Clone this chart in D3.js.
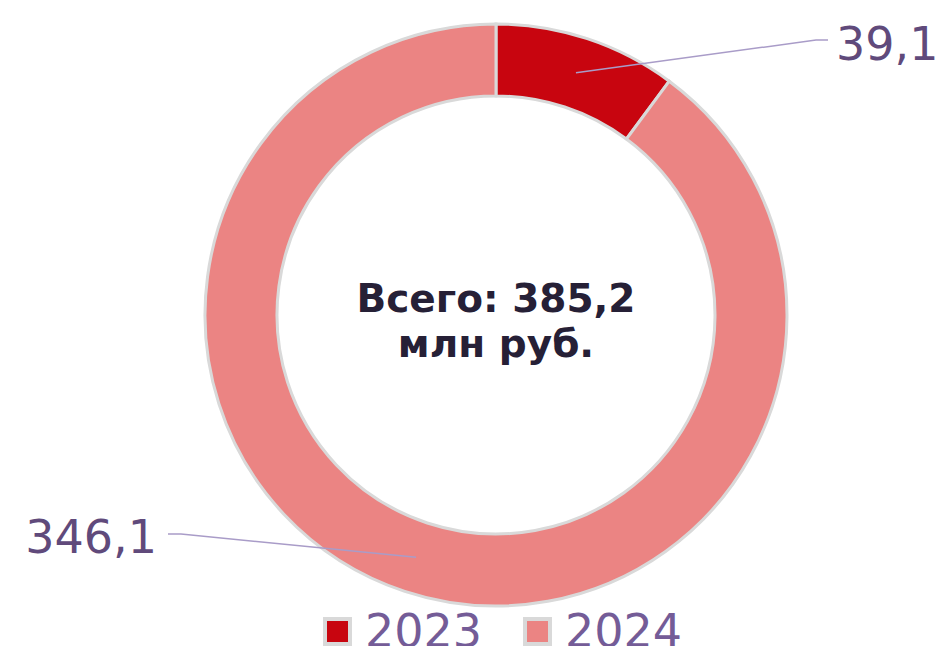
<!DOCTYPE html>
<html>
<head>
<meta charset="utf-8">
<script src="https://cdn.jsdelivr.net/npm/d3@7"></script>
<style>
  body { margin: 0; background: #fff; }
  svg { display: block; font-family: "DejaVu Sans", Verdana, sans-serif; }
</style>
</head>
<body>
<div id="chart"></div>
<script>
// data
const years = ["2023", "2024"];
const amounts = [39.1, 346.1];
const labels = ["39,1", "346,1"];
const totalText = ["Всего: 385,2", "млн руб."];
const colors = ["#C8050F", "#EB8483"];

const width = 948, height = 646;
const cx = 496, cy = 315;
const outerR = 291, innerR = 219;

const svg = d3.select("#chart")
  .append("svg")
    .attr("width", width)
    .attr("height", height);

const g = svg.append("g")
  .attr("transform", `translate(${cx}, ${cy})`);

const data = years.map(function(y, i) { return {year: y, amount: amounts[i], label: labels[i], color: colors[i]}; });

const pie = d3.pie()
  .sort(null)
  .value(function(d) { return d.amount; });

const arcGenerator = d3.arc()
  .innerRadius(innerR)
  .outerRadius(outerR);

const slices = pie(data);

g.selectAll("path.slice")
  .data(slices)
  .join("path")
    .attr("class", "slice")
    .attr("d", arcGenerator)
    .attr("fill", function(d) { return d.data.color; })
    .attr("stroke", "#D9D9D9")
    .style("stroke-width", "3px");

// leader lines: from centroid to label
const labelPos = [
  {kink: [816 - cx, 40 - cy], end: [828 - cx, 40 - cy], tx: 836 - cx, ty: 60 - cy, anchor: "start"},
  {kink: [181 - cx, 534 - cy], end: [168 - cx, 534 - cy], tx: 157 - cx, ty: 553 - cy, anchor: "end"}
];

g.selectAll("polyline.leader")
  .data(slices)
  .join("polyline")
    .attr("class", "leader")
    .attr("points", function(d, i) {
      const c = arcGenerator.centroid(d);
      return [c, labelPos[i].kink, labelPos[i].end].map(function(p) { return p.join(","); }).join(" ");
    })
    .attr("fill", "none")
    .attr("stroke", "#A99CC8")
    .style("stroke-width", "1.5px");

g.selectAll("text.value")
  .data(slices)
  .join("text")
    .attr("class", "value")
    .attr("x", function(d, i) { return labelPos[i].tx; })
    .attr("y", function(d, i) { return labelPos[i].ty; })
    .attr("text-anchor", function(d, i) { return labelPos[i].anchor; })
    .style("font-size", "46px")
    .attr("fill", "#604A7B")
    .text(function(d) { return d.data.label; });

// center text
g.selectAll("text.total")
  .data(totalText)
  .join("text")
    .attr("class", "total")
    .attr("x", 0)
    .attr("y", function(d, i) { return -3 + i * 45; })
    .attr("text-anchor", "middle")
    .style("font-size", "39px")
    .style("font-weight", "bold")
    .attr("fill", "#262036")
    .text(function(d) { return d; });

// legend
const legendX = [325, 525];
const legend = svg.selectAll("g.legend")
  .data(data)
  .join("g")
    .attr("class", "legend")
    .attr("transform", function(d, i) { return `translate(${legendX[i]}, 619)`; });

legend.append("rect")
  .attr("width", 25)
  .attr("height", 25)
  .attr("fill", function(d) { return d.color; })
  .attr("stroke", "#D9D9D9")
  .style("stroke-width", "4px");

legend.append("text")
  .attr("x", 40)
  .attr("y", 28)
  .style("font-size", "46px")
  .attr("fill", "#745C97")
  .text(function(d) { return d.year; });
</script>
</body>
</html>
